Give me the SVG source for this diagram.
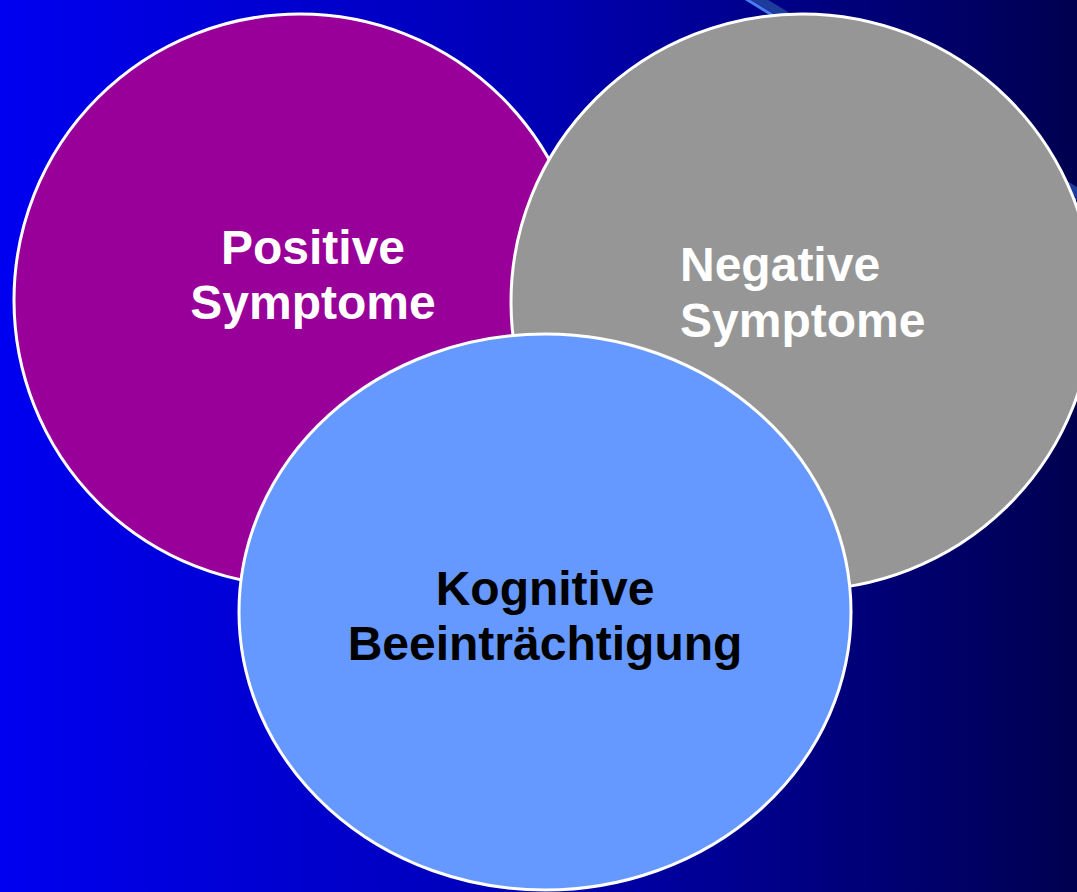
<svg xmlns="http://www.w3.org/2000/svg" width="1077" height="892" viewBox="0 0 1077 892">
  <defs>
    <linearGradient id="bg" x1="0" y1="0" x2="1" y2="0">
      <stop offset="0" stop-color="#0000F0"/>
      <stop offset="0.5" stop-color="#0000B4"/>
      <stop offset="1" stop-color="#000050"/>
    </linearGradient>
  </defs>
  <style>
    .c { stroke: #FFFFFF; stroke-width: 3; }
    .t { font-family: "Liberation Sans", Arial, sans-serif; font-weight: bold; font-size: 48px; }
    .w { fill: #FFFFFF; }
    .k { fill: #000000; }
  </style>
  <rect x="0" y="0" width="1077" height="892" fill="url(#bg)"/>
  <g id="connectors">
    <line x1="753" y1="-4" x2="1083" y2="196" stroke="#1E3C9C" stroke-width="9"/>
    <line x1="746" y1="-1" x2="1076" y2="200" stroke="#4A7CF0" stroke-width="3"/>
  </g>
  <g id="positive">
    <circle class="c" cx="300" cy="300" r="286" fill="#990099"/>
    <text class="t w" text-anchor="middle" x="313" y="264">Positive</text>
    <text class="t w" text-anchor="middle" x="313" y="319">Symptome</text>
  </g>
  <g id="negative">
    <ellipse class="c" cx="802" cy="302" rx="291" ry="288" fill="#969696"/>
    <text class="t w" x="680" y="281">Negative</text>
    <text class="t w" x="680" y="337">Symptome</text>
  </g>
  <g id="kognitive">
    <ellipse class="c" cx="545" cy="612" rx="306" ry="278" fill="#6699FF"/>
    <text class="t k" text-anchor="middle" x="545" y="605">Kognitive</text>
    <text class="t k" text-anchor="middle" x="545" y="660">Beeinträchtigung</text>
  </g>
</svg>
